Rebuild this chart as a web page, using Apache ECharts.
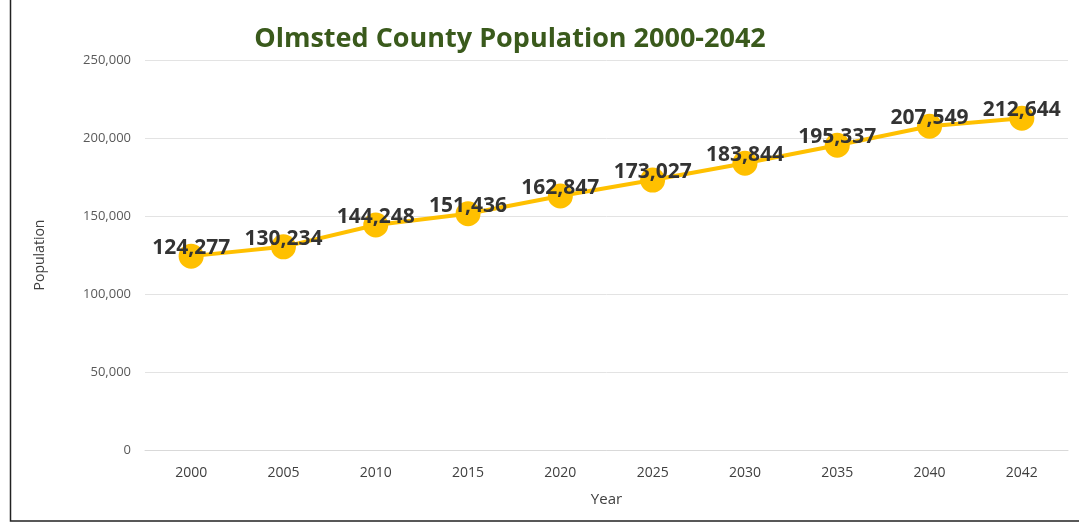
<!DOCTYPE html>
<html><head><meta charset="utf-8">
<script src="https://cdn.jsdelivr.net/npm/echarts@6/dist/echarts.min.js"></script>
<style>html,body{margin:0;padding:0;background:#fff}#c{width:1079px;height:523px}</style>
</head><body><div id="c"></div>
<script>
const years = ['2000','2005','2010','2015','2020','2025','2030','2035','2040','2042'];
const population = [124277,130234,144248,151436,162847,173027,183844,195337,207549,212644];
const yTicks = {min:0, max:250000, interval:50000};

const chart = echarts.init(document.getElementById('c'));
chart.setOption({
  animation:false,
  backgroundColor:'#fff',
  title:{text:'Olmsted County Population 2000-2042', left:505, top:21, textAlign:'center',
    textStyle:{fontFamily:'Open Sans', fontWeight:'bold', fontSize:27, color:'#3a5a1c'}},
  graphic:[{type:'rect', shape:{x:10.5,y:-2,width:1080,height:523}, style:{fill:'none',stroke:'#222',lineWidth:1.5}, silent:true}],
  grid:{left:145, right:11, top:60, bottom:73},
  xAxis:{type:'category', data:years, boundaryGap:true,
    name:'Year', nameLocation:'middle', nameGap:42,
    nameTextStyle:{fontFamily:'Open Sans', fontSize:15, color:'#404040'},
    axisLine:{show:true, lineStyle:{color:'#d9d9d9'}}, axisTick:{show:false},
    axisLabel:{fontFamily:'Open Sans', fontSize:14, color:'#404040', margin:16}},
  yAxis:{type:'value', min:yTicks.min, max:yTicks.max, interval:yTicks.interval,
    name:'Population', nameLocation:'middle', nameGap:98, nameRotate:90,
    nameTextStyle:{fontFamily:'Open Sans', fontSize:14, color:'#404040'},
    axisLine:{show:false}, axisTick:{show:false},
    splitLine:{lineStyle:{color:'#e3e3e3', width:1}},
    axisLabel:{fontFamily:'Open Sans', fontSize:13, color:'#595959', margin:14,
      formatter:v=>v.toLocaleString('en-US')}},
  series:[{type:'line', data:population, symbol:'circle', symbolSize:25,
    lineStyle:{color:'#FFC000', width:4}, itemStyle:{color:'#FFC000'},
    label:{show:true, position:'inside', offset:[0,-8], fontFamily:'Open Sans', fontWeight:'bold', fontSize:21, color:'#333',
      formatter:p=>p.value.toLocaleString('en-US')}}]
});
</script></body></html>
